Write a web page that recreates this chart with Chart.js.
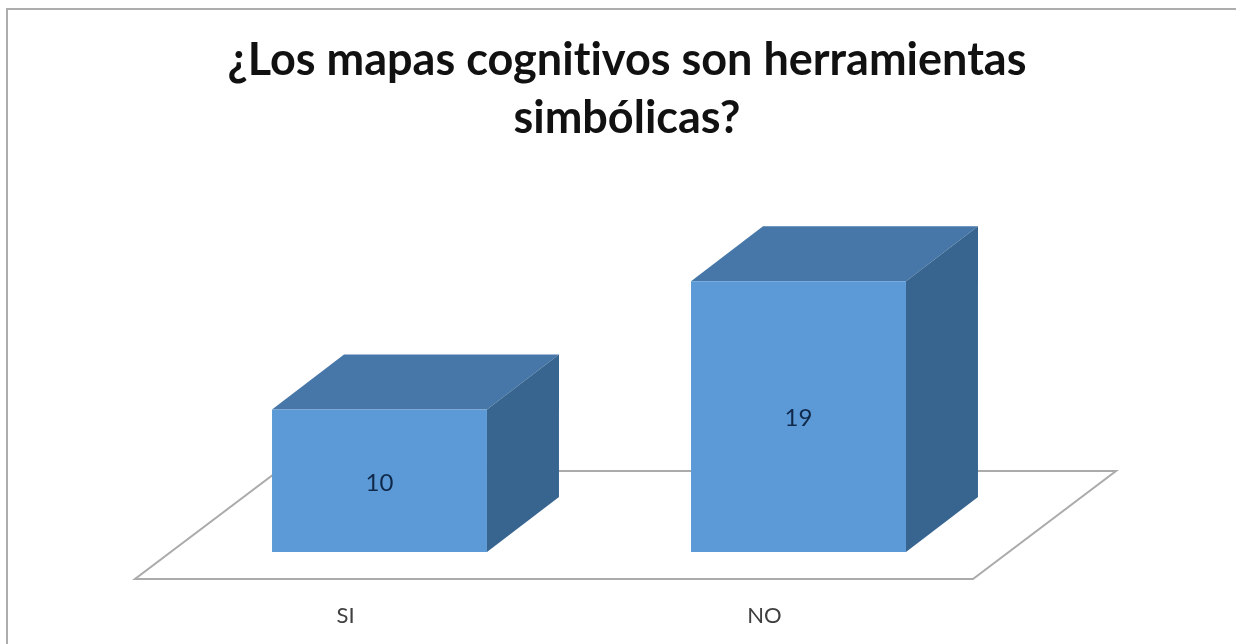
<!DOCTYPE html>
<html>
<head>
<meta charset="utf-8">
<title>¿Los mapas cognitivos son herramientas simbólicas?</title>
<script src="https://cdn.jsdelivr.net/npm/chart.js@4"></script>
<style>
html,body{margin:0;padding:0;background:#fff;overflow:hidden}
canvas{display:block}
</style>
</head>
<body>
<canvas id="c" width="1236" height="644"></canvas>
<script>
const categories = ["SI", "NO"];
const values = [10, 19];
const titleLines = ["¿Los mapas cognitivos son herramientas", "simbólicas?"];

const FRONT = "#5b9ad6", TOP = "#4677a8", SIDE = "#38658f", FRAME = "#adadad", FLOOR = "#ababab";
const DX = 72, DY = 55;

function poly(ctx, pts, fill, stroke, lw) {
  ctx.beginPath();
  pts.forEach((p, i) => i ? ctx.lineTo(p[0], p[1]) : ctx.moveTo(p[0], p[1]));
  ctx.closePath();
  if (fill) { ctx.fillStyle = fill; ctx.fill(); }
  if (stroke) { ctx.strokeStyle = stroke; ctx.lineWidth = lw; ctx.stroke(); }
}

const bar3d = {
  id: "bar3d",
  beforeDraw(chart) {
    const ctx = chart.ctx;
    ctx.textRendering = "optimizeSpeed";
    ctx.save();
    ctx.fillStyle = "#fff";
    ctx.fillRect(0, 0, chart.width, chart.height);
    ctx.strokeStyle = FRAME;
    ctx.lineWidth = 2;
    ctx.beginPath();
    ctx.moveTo(7, chart.height);
    ctx.lineTo(7, 9);
    ctx.lineTo(chart.width, 9);
    ctx.stroke();
    ctx.restore();
  },
  beforeDatasetsDraw(chart) {
    const ctx = chart.ctx, a = chart.chartArea, y0 = chart.scales.y.getPixelForValue(0);
    ctx.save();
    const fy = y0 + 27, bx = 143, by = 108, l = a.left - 35, r = a.right - 35;
    poly(ctx, [[l, fy], [r, fy], [r + bx, fy - by], [l + bx, fy - by]], null, FLOOR, 2);
    chart.getDatasetMeta(0).data.forEach(el => {
      const L = el.x - el.width / 2, R = el.x + el.width / 2, T = el.y, B = el.base;
      poly(ctx, [[L, T], [R, T], [R + DX, T - DY], [L + DX, T - DY]], TOP);
      poly(ctx, [[R, T], [R + DX, T - DY], [R + DX, B - DY], [R, B]], SIDE);
    });
    ctx.restore();
  },
  afterDatasetsDraw(chart) {
    const ctx = chart.ctx;
    ctx.save();
    ctx.font = "24px Lato";
    ctx.fillStyle = "#10294a";
    ctx.textAlign = "center";
    ctx.textBaseline = "middle";
    chart.getDatasetMeta(0).data.forEach((el, i) => {
      ctx.fillText(String(values[i]), el.x, (el.y + el.base) / 2 + 2);
    });
    ctx.restore();
  }
};

new Chart(document.getElementById("c"), {
  type: "bar",
  data: {
    labels: categories,
    datasets: [{
      data: values,
      backgroundColor: FRONT,
      borderWidth: 0,
      categoryPercentage: 1,
      barPercentage: 0.513
    }]
  },
  plugins: [bar3d],
  options: {
    responsive: false,
    animation: false,
    layout: { padding: { left: 18, top: 0, right: 0, bottom: 0 } },
    plugins: {
      legend: { display: false },
      tooltip: { enabled: false },
      title: {
        display: true,
        text: titleLines,
        color: "#111111",
        font: { family: "Lato", size: 45, weight: "bold", lineHeight: 1.29 },
        padding: { top: 31, bottom: 120 }
      }
    },
    scales: {
      x: {
        type: "category",
        offset: true,
        grid: { display: false },
        border: { display: false },
        ticks: { color: "#404040", font: { family: "Lato", size: 22 }, padding: 43, labelOffset: -34, maxRotation: 0 },
        afterFit(s) { s.height = 92; }
      },
      y: {
        min: 0,
        max: 20,
        grid: { display: false },
        border: { display: false },
        ticks: { display: false },
        afterFit(s) { s.width = 152; }
      },
      yr: {
        position: "right",
        min: 0,
        max: 20,
        grid: { display: false },
        border: { display: false },
        ticks: { display: false },
        afterFit(s) { s.width = 228; }
      }
    }
  }
});
</script>
</body>
</html>
